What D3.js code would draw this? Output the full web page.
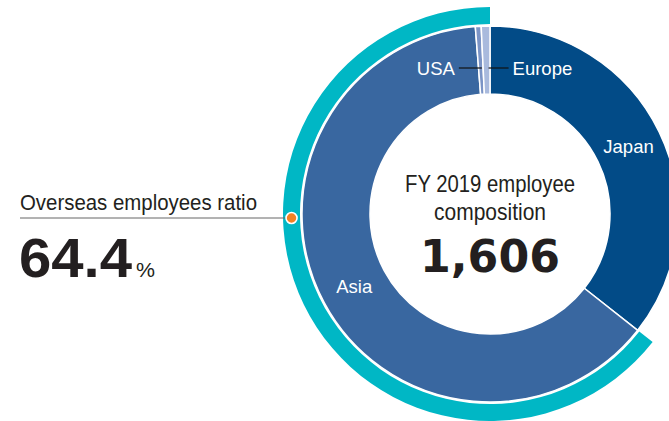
<!DOCTYPE html>
<html>
<head>
<meta charset="utf-8">
<script src="https://cdn.jsdelivr.net/npm/d3@7"></script>
<style>
  html, body { margin: 0; padding: 0; background: #fff; }
  svg { display: block; }
</style>
</head>
<body>
<svg id="chart" width="669" height="421"></svg>
<script>
// Employee composition by region, FY 2019
const regions   = ["Japan", "Asia", "USA", "Europe"];
const employees = [572, 1014, 8, 12];
const regionColors = ["#024b87", "#3967a0", "#7b94c6", "#a9badd"];

const fiscalYear = "FY 2019";
const homeRegion = "Japan";

const cx = 490, cy = 214;
const rInner = 120, rOuter = 188;
const ringInner = 190, ringOuter = 207;

const sans = "'Liberation Sans', Arial, Helvetica, sans-serif";
const heavy = "'DejaVu Sans', 'Liberation Sans', sans-serif";

const svg = d3.select("#chart");
const g = svg.append("g").attr("transform", `translate(${cx},${cy})`);

const rows = regions.map((r, i) => ({ region: r, value: employees[i], color: regionColors[i] }));
const total = d3.sum(employees);
const homeCount = employees[regions.indexOf(homeRegion)];
const overseasRatio = (total - homeCount) / total * 100;

const pie = d3.pie().sort(null).value(d => d.value).startAngle(0).endAngle(2 * Math.PI);
const arcs = pie(rows);
const arc = d3.arc().innerRadius(rInner).outerRadius(rOuter);

// Region slices
g.selectAll("path.slice")
  .data(arcs)
  .join("path")
  .attr("class", "slice")
  .attr("d", arc)
  .attr("fill", d => d.data.color)
  .attr("stroke", "#fff")
  .attr("stroke-width", 1.5);

// Outer ring marking the overseas share
const homeArc = arcs.find(a => a.data.region === homeRegion);
const ringArc = d3.arc()
  .innerRadius(ringInner).outerRadius(ringOuter)
  .startAngle(homeArc.endAngle).endAngle(2 * Math.PI);
g.append("path").attr("d", ringArc()).attr("fill", "#00b7c5");

// Labels inside the big slices
arcs.filter(a => a.data.region === "Japan" || a.data.region === "Asia").forEach(a => {
  const [x, y] = arc.centroid(a);
  g.append("text")
    .attr("x", x).attr("y", y + 6.5)
    .attr("text-anchor", "middle")
    .attr("fill", "#fff")
    .attr("font-family", sans)
    .attr("font-size", 18.5)
    .text(a.data.region);
});

// Small slices: labels with leader lines at a fixed height
const smallY = -146;
const smallLabel = {
  USA:    { side: -1, len: 23 },
  Europe: { side: 1,  len: 20 }
};
arcs.filter(a => smallLabel[a.data.region]).forEach(a => {
  const cfg = smallLabel[a.data.region];
  const mid = (a.startAngle + a.endAngle) / 2;
  const sx = -Math.tan(mid) * smallY; // x of the slice's centre line at smallY
  const x0 = cfg.side < 0 ? sx + 1 : sx + 2;
  const x1 = x0 + cfg.side * cfg.len;
  g.append("line")
    .attr("x1", x0).attr("x2", x1)
    .attr("y1", smallY).attr("y2", smallY)
    .attr("stroke", "#111").attr("stroke-width", 1.2);
  g.append("text")
    .attr("x", x1 + cfg.side * 4)
    .attr("y", smallY + 7)
    .attr("text-anchor", cfg.side < 0 ? "end" : "start")
    .attr("fill", "#fff")
    .attr("font-family", sans)
    .attr("font-size", 18.5)
    .text(a.data.region);
});

// Centre caption (condensed setting)
const centre = g.append("g").attr("fill", "#231f20").attr("text-anchor", "middle");
centre.append("text")
  .attr("y", -22).attr("font-family", sans).attr("font-size", 24)
  .attr("textLength", 170).attr("lengthAdjust", "spacingAndGlyphs")
  .text(`${fiscalYear} employee`);
centre.append("text")
  .attr("y", 6).attr("font-family", sans).attr("font-size", 24)
  .attr("textLength", 112).attr("lengthAdjust", "spacingAndGlyphs")
  .text("composition");
centre.append("text")
  .attr("y", 58).attr("font-family", heavy).attr("font-weight", "bold").attr("font-size", 45)
  .attr("textLength", 140).attr("lengthAdjust", "spacingAndGlyphs")
  .text(d3.format(",")(total));

// Overseas ratio callout on the left
const dotY = 218;
const dotR = (ringInner + ringOuter) / 2;
const dotX = cx - Math.sqrt(dotR * dotR - (dotY - cy) * (dotY - cy));
svg.append("line")
  .attr("x1", 20).attr("x2", dotX)
  .attr("y1", dotY).attr("y2", dotY)
  .attr("stroke", "#666").attr("stroke-width", 1);
svg.append("circle")
  .attr("cx", dotX).attr("cy", dotY).attr("r", 5.5)
  .attr("fill", "#f28123").attr("stroke", "#fff").attr("stroke-width", 1.6);

svg.append("text")
  .attr("x", 20).attr("y", 210)
  .attr("font-family", sans).attr("font-size", 22)
  .attr("fill", "#231f20")
  .attr("textLength", 237).attr("lengthAdjust", "spacingAndGlyphs")
  .text("Overseas employees ratio");

svg.append("text")
  .attr("x", 19).attr("y", 277)
  .attr("fill", "#231f20")
  .attr("font-family", sans)
  .attr("font-weight", "bold").attr("font-size", 56)
  .attr("textLength", 113).attr("lengthAdjust", "spacingAndGlyphs")
  .text(d3.format(".1f")(overseasRatio));
svg.append("text")
  .attr("x", 136).attr("y", 277)
  .attr("fill", "#231f20")
  .attr("font-family", sans)
  .attr("font-size", 21)
  .attr("textLength", 19).attr("lengthAdjust", "spacingAndGlyphs")
  .text("%");
</script>
</body>
</html>
